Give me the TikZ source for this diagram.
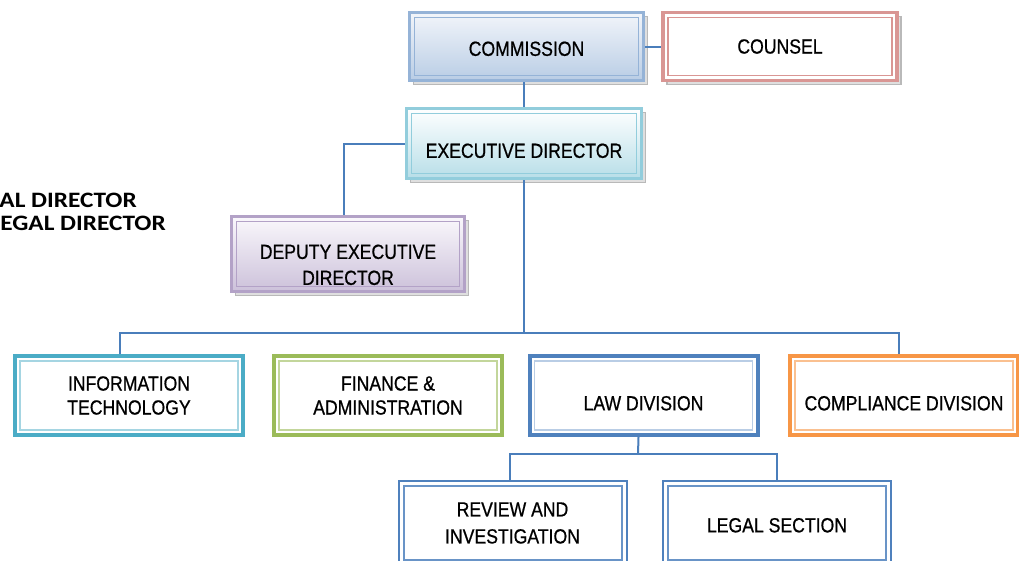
\documentclass[tikz,border=0pt]{standalone}
\usepackage{fontspec}
\usepackage{tikz}
\usetikzlibrary{shadows}
\newfontfamily\boxfont[FakeStretch=0.86, FakeBold=0.7]{Liberation Sans}
\newfontfamily\sidefont[FakeStretch=1.15]{Carlito}
\definecolor{mblue}{HTML}{95B3D7}
\definecolor{mbluetop}{HTML}{F2F5FA}
\definecolor{mbluebot}{HTML}{B9CDE5}
\definecolor{mrose}{HTML}{D99694}
\definecolor{mcyan}{HTML}{92CDDC}
\definecolor{mcyanbot}{HTML}{B7DEE8}
\definecolor{mlilac}{HTML}{B3A2C7}
\definecolor{mlilactop}{HTML}{FAF8FC}
\definecolor{mlilacbot}{HTML}{CCC1DA}
\definecolor{mteal}{HTML}{4BACC6}
\definecolor{mtealin}{HTML}{A5D5E2}
\definecolor{mgreen}{HTML}{9BBB59}
\definecolor{mgreenin}{HTML}{C3D69B}
\definecolor{mnavy}{HTML}{4F81BD}
\definecolor{mnavyin}{HTML}{B9CDE5}
\definecolor{morange}{HTML}{F79646}
\definecolor{morangein}{HTML}{FAC090}
\definecolor{mline}{HTML}{4A7EBB}
\tikzset{inset/.style 2 args = {path picture={\draw [#1, line width=#2]
                   ([shift={(5pt,-5pt)}]path picture bounding box.north west) rectangle
                   ([shift={(-5pt,5pt)}]path picture bounding box.south east);}}}
\tikzset{topbox/.style = {draw=#1, line width=3.5pt, minimum width=234pt, minimum height=68pt,
                          align=center, font=\boxfont\fontsize{20.5}{26}\selectfont,
                          general shadow={shadow xshift=4pt, shadow yshift=-4pt,
                                          fill=gray!25, draw=gray!55, line width=1.5pt},
                          inset={#1}{1.6pt}}}
\tikzset{rowbox/.style 2 args = {draw=#1, line width=4pt, fill=white, minimum width=228pt,
                                 minimum height=79pt, align=center,
                                 font=\boxfont\fontsize{20.5}{24}\selectfont, inset={#2}{1.2pt}}}
\tikzset{subbox/.style = {draw=mnavy, line width=2pt, fill=white, minimum width=228pt,
                          minimum height=84pt, align=center,
                          font=\boxfont\fontsize{20.5}{27}\selectfont, inset={mnavy!85}{2pt}}}
\tikzset{textdrop/.style = {text height=#1, text depth=0pt}}
\tikzset{conn/.style = {draw=mline, line width=2pt}}
\tikzset{sidetxt/.style = {anchor=base east, inner sep=0, font=\sidefont\bfseries\fontsize{22}{26}\selectfont}}

\begin{document}
\begin{tikzpicture}[x=1pt, y=-1pt]
    \useasboundingbox (0, 0) rectangle (1019, 560);

    % top of the chart
    \node [topbox=mblue, top color=mbluetop, bottom color=mbluebot, textdrop=18.7pt] (commission) at (526.5, 46.5) {COMMISSION};
    \node [topbox=mrose, fill=white] (counsel) at (780, 46.5) {COUNSEL};
    \node [topbox=mcyan, top color=white, bottom color=mcyanbot, minimum width=235pt, minimum height=70pt, textdrop=28.7pt] (exec) at (524, 143.5) {EXECUTIVE DIRECTOR};
    \node [topbox=mlilac, top color=mlilactop, bottom color=mlilacbot, minimum width=233pt, minimum height=75pt] (deputy) at (348, 254) {\rule{0pt}{36pt}DEPUTY EXECUTIVE\\DIRECTOR};

    \node [sidetxt] (general) at (137, 207) {AL DIRECTOR};
    \node [sidetxt] (legaldir) at (166, 230) {EGAL DIRECTOR};

    % divisions
    \node [rowbox={mteal}{mtealin}] (it) at (129, 395.5) {INFORMATION\\TECHNOLOGY};
    \node [rowbox={mgreen}{mgreenin}] (finance) at (388, 395.5) {FINANCE \&\\ADMINISTRATION};
    \node [rowbox={mnavy}{mnavyin}, textdrop=29.7pt] (law) at (643.5, 395.5) {LAW DIVISION};
    \node [rowbox={morange}{morangein}, textdrop=29.7pt] (compliance) at (904, 395.5) {COMPLIANCE DIVISION};

    % sections of the law division
    \node [subbox] (review) at (512.5, 523) {REVIEW AND\\INVESTIGATION};
    \node [subbox, textdrop=18.7pt] (legal) at (777, 523) {LEGAL SECTION};

    \coordinate (bus) at (524, 333);
    \coordinate (lawbus) at (638, 454);
    \draw [conn] (commission.east) -- (counsel.west);
    \draw [conn] (exec.north) -- (exec.north |- commission.south);
    \draw [conn] (exec.west) -| ([xshift=-4pt]deputy.north);
    \draw [conn] (exec.south) -- (exec.south |- bus);
    \draw [conn] ([xshift=-9pt]it.north) |- (bus) -| ([xshift=-5pt]compliance.north);
    \draw [conn] ([xshift=-5pt]law.south) -- (lawbus);
    \draw [conn] ([xshift=-3pt]review.north) |- (lawbus) -| (legal.north);
  \end{tikzpicture}
\end{document}
